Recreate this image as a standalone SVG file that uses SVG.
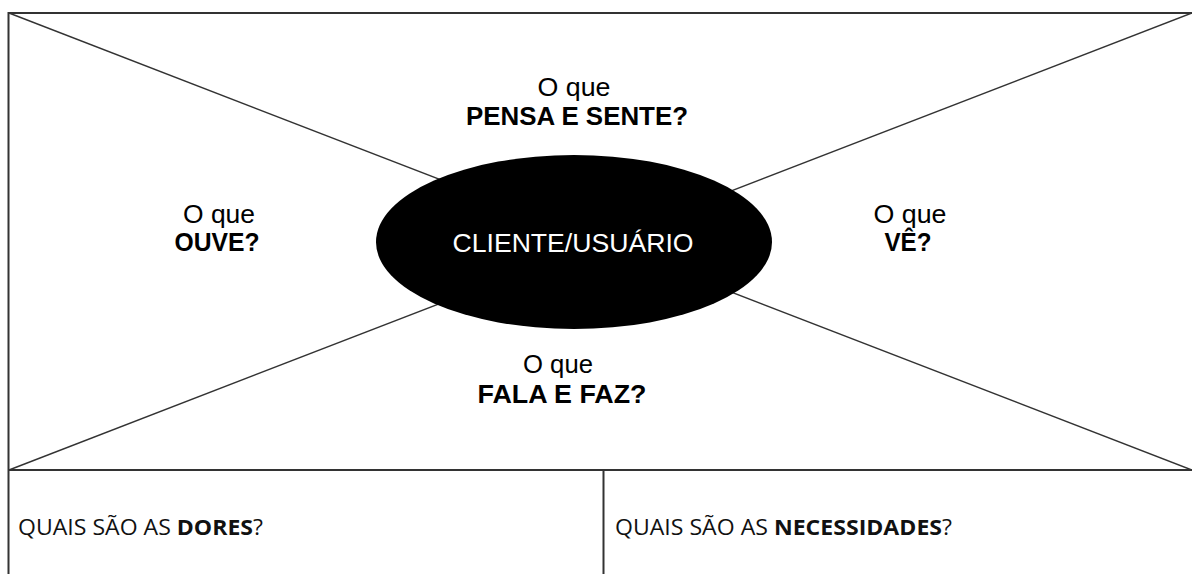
<svg xmlns="http://www.w3.org/2000/svg" width="1192" height="574" viewBox="0 0 1192 574">
  <style>
    .frame { fill: none; stroke: #333333; stroke-width: 2; }
    .diag { stroke: #333333; stroke-width: 1.4; fill: none; }
    .q { font-family: "Liberation Sans", Arial, sans-serif; font-size: 25px; fill: #000000; text-anchor: middle; }
    .b { font-weight: bold; }
    .center { font-family: "Liberation Sans", Arial, sans-serif; font-size: 25px; fill: #ffffff; text-anchor: middle; }
    .low { font-family: "Open Sans", "Noto Sans", sans-serif; font-size: 21px; fill: #111111; }
  </style>
  <rect width="1192" height="574" fill="#ffffff"/>
  <g id="connectors">
    <line class="diag" x1="9" y1="13" x2="1192" y2="470"/>
    <line class="diag" x1="9" y1="470" x2="1192" y2="13"/>
  </g>
  <g id="frame">
    <line class="frame" x1="8" y1="13" x2="1192" y2="13"/>
    <line class="frame" x1="8.5" y1="12" x2="8.5" y2="574"/>
    <line class="frame" x1="8" y1="470" x2="1192" y2="470"/>
    <line class="frame" x1="603.5" y1="470" x2="603.5" y2="574"/>
  </g>
  <g id="node-cliente">
    <ellipse cx="574" cy="242" rx="198" ry="87" fill="#000000"/>
    <text class="center" x="573" y="252" textLength="241" lengthAdjust="spacingAndGlyphs">CLIENTE/USUÁRIO</text>
  </g>
  <g id="node-pensa">
    <text class="q" x="574" y="96" textLength="73" lengthAdjust="spacingAndGlyphs">O que</text>
    <text class="q b" x="577" y="125" textLength="222" lengthAdjust="spacingAndGlyphs">PENSA E SENTE?</text>
  </g>
  <g id="node-ouve">
    <text class="q" x="219" y="223" textLength="72" lengthAdjust="spacingAndGlyphs">O que</text>
    <text class="q b" x="217" y="251" textLength="85" lengthAdjust="spacingAndGlyphs">OUVE?</text>
  </g>
  <g id="node-ve">
    <text class="q" x="910" y="223" textLength="73" lengthAdjust="spacingAndGlyphs">O que</text>
    <text class="q b" x="908" y="251" textLength="47" lengthAdjust="spacingAndGlyphs">VÊ?</text>
  </g>
  <g id="node-fala">
    <text class="q" x="558" y="373" textLength="70" lengthAdjust="spacingAndGlyphs">O que</text>
    <text class="q b" x="562" y="403" textLength="169" lengthAdjust="spacingAndGlyphs">FALA E FAZ?</text>
  </g>
  <g id="node-dores">
    <text class="low" x="18" y="535" textLength="245" lengthAdjust="spacingAndGlyphs">QUAIS SÃO AS <tspan class="b">DORES</tspan>?</text>
  </g>
  <g id="node-necessidades">
    <text class="low" x="615" y="535" textLength="337" lengthAdjust="spacingAndGlyphs">QUAIS SÃO AS <tspan class="b">NECESSIDADES</tspan>?</text>
  </g>
</svg>
